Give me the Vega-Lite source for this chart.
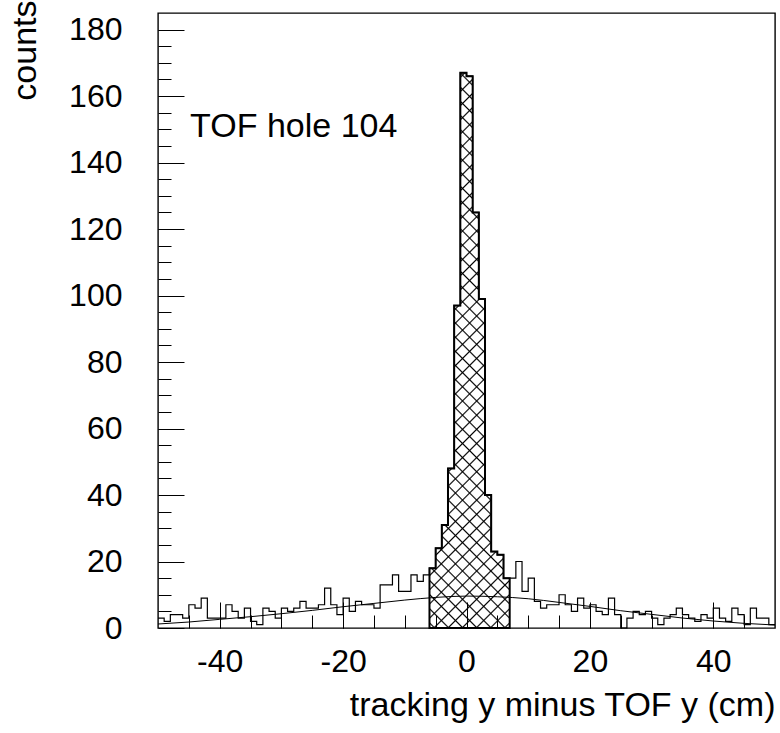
{
"$schema":"https://vega.github.io/schema/vega-lite/v6.json",
"width":617,"height":615,
"autosize":{"type":"none"},
"padding":{"left":158,"top":13,"right":5,"bottom":105},
"background":"white",
"config":{"view":{"stroke":"black","strokeWidth":1.4},"font":"Liberation Sans"},
"datasets":{
"hist":[{"x":-50,"c":3},{"x":-49,"c":2},{"x":-48,"c":4},{"x":-47,"c":4},{"x":-46,"c":3},{"x":-45,"c":7},{"x":-44,"c":6},{"x":-43,"c":9},{"x":-42,"c":3},{"x":-41,"c":3},{"x":-40,"c":3},{"x":-39,"c":7},{"x":-38,"c":5},{"x":-37,"c":3},{"x":-36,"c":6},{"x":-35,"c":2},{"x":-34,"c":1},{"x":-33,"c":6},{"x":-32,"c":5},{"x":-31,"c":3},{"x":-30,"c":6},{"x":-29,"c":5},{"x":-28,"c":6},{"x":-27,"c":8},{"x":-26,"c":6},{"x":-25,"c":6},{"x":-24,"c":7},{"x":-23,"c":12},{"x":-22,"c":7},{"x":-21,"c":4},{"x":-20,"c":9},{"x":-19,"c":5},{"x":-18,"c":8},{"x":-17,"c":7},{"x":-16,"c":7},{"x":-15,"c":6},{"x":-14,"c":13},{"x":-13,"c":13},{"x":-12,"c":16},{"x":-11,"c":11},{"x":-10,"c":11},{"x":-9,"c":16},{"x":-8,"c":14},{"x":-7,"c":16},{"x":-6,"c":18},{"x":-5,"c":24},{"x":-4,"c":31},{"x":-3,"c":48},{"x":-2,"c":97},{"x":-1,"c":167},{"x":0,"c":166},{"x":1,"c":125},{"x":2,"c":99},{"x":3,"c":40},{"x":4,"c":23},{"x":5,"c":22},{"x":6,"c":15},{"x":7,"c":15},{"x":8,"c":20},{"x":9,"c":11},{"x":10,"c":15},{"x":11,"c":8},{"x":12,"c":6},{"x":13,"c":7},{"x":14,"c":7},{"x":15,"c":10},{"x":16,"c":7},{"x":17,"c":5},{"x":18,"c":9},{"x":19,"c":6},{"x":20,"c":7},{"x":21,"c":5},{"x":22,"c":4},{"x":23,"c":9},{"x":24,"c":4},{"x":25,"c":0},{"x":26,"c":3},{"x":27,"c":5},{"x":28,"c":4},{"x":29,"c":5},{"x":30,"c":3},{"x":31,"c":1},{"x":32,"c":3},{"x":33,"c":4},{"x":34,"c":6},{"x":35,"c":4},{"x":36,"c":3},{"x":37,"c":2},{"x":38,"c":4},{"x":39,"c":3},{"x":40,"c":6},{"x":41,"c":3},{"x":42,"c":2},{"x":43,"c":6},{"x":44,"c":4},{"x":45,"c":1},{"x":46,"c":6},{"x":47,"c":3},{"x":48,"c":3},{"x":49,"c":1},{"x":50,"c":1}],
"sel":[{"x":-6,"c":18},{"x":-5,"c":24},{"x":-4,"c":31},{"x":-3,"c":48},{"x":-2,"c":97},{"x":-1,"c":167},{"x":0,"c":166},{"x":1,"c":125},{"x":2,"c":99},{"x":3,"c":40},{"x":4,"c":23},{"x":5,"c":22},{"x":6,"c":15},{"x":7,"c":15}],
"fit":[{"x":-50,"c":1.2},{"x":-45,"c":1.8},{"x":-40,"c":2.6},{"x":-35,"c":3.4},{"x":-30,"c":4.3},{"x":-25,"c":5.3},{"x":-20,"c":6.4},{"x":-15,"c":7.4},{"x":-10,"c":8.4},{"x":-5,"c":9.2},{"x":0,"c":9.6},{"x":5,"c":9.4},{"x":10,"c":8.8},{"x":15,"c":7.7},{"x":20,"c":6.5},{"x":25,"c":5.2},{"x":30,"c":4.1},{"x":35,"c":3.0},{"x":40,"c":2.1},{"x":45,"c":1.4},{"x":50,"c":0.9}],
"label":[{"x":-44.8,"c":150.8,"t":"TOF hole 104"}]
},
"resolve":{"axis":{"x":"independent","y":"independent"}},
"layer":[
{"data":{"name":"sel"},
 "mark":{"type":"area","interpolate":"step-after","fill":{"gradient":"linear","x1":0,"y1":0,"x2":0.16225,"y2":1.12121,"stops":[
{"offset":0.0086,"color":"rgba(0,0,0,0)"},{"offset":0.0111,"color":"black"},{"offset":0.0136,"color":"rgba(0,0,0,0)"},
{"offset":0.0309,"color":"rgba(0,0,0,0)"},{"offset":0.0334,"color":"black"},{"offset":0.0359,"color":"rgba(0,0,0,0)"},
{"offset":0.0532,"color":"rgba(0,0,0,0)"},{"offset":0.0557,"color":"black"},{"offset":0.0582,"color":"rgba(0,0,0,0)"},
{"offset":0.0755,"color":"rgba(0,0,0,0)"},{"offset":0.0780,"color":"black"},{"offset":0.0805,"color":"rgba(0,0,0,0)"},
{"offset":0.0978,"color":"rgba(0,0,0,0)"},{"offset":0.1003,"color":"black"},{"offset":0.1028,"color":"rgba(0,0,0,0)"},
{"offset":0.1201,"color":"rgba(0,0,0,0)"},{"offset":0.1226,"color":"black"},{"offset":0.1251,"color":"rgba(0,0,0,0)"},
{"offset":0.1424,"color":"rgba(0,0,0,0)"},{"offset":0.1449,"color":"black"},{"offset":0.1474,"color":"rgba(0,0,0,0)"},
{"offset":0.1647,"color":"rgba(0,0,0,0)"},{"offset":0.1672,"color":"black"},{"offset":0.1697,"color":"rgba(0,0,0,0)"},
{"offset":0.1870,"color":"rgba(0,0,0,0)"},{"offset":0.1895,"color":"black"},{"offset":0.1920,"color":"rgba(0,0,0,0)"},
{"offset":0.2093,"color":"rgba(0,0,0,0)"},{"offset":0.2118,"color":"black"},{"offset":0.2143,"color":"rgba(0,0,0,0)"},
{"offset":0.2315,"color":"rgba(0,0,0,0)"},{"offset":0.2340,"color":"black"},{"offset":0.2365,"color":"rgba(0,0,0,0)"},
{"offset":0.2538,"color":"rgba(0,0,0,0)"},{"offset":0.2563,"color":"black"},{"offset":0.2588,"color":"rgba(0,0,0,0)"},
{"offset":0.2761,"color":"rgba(0,0,0,0)"},{"offset":0.2786,"color":"black"},{"offset":0.2811,"color":"rgba(0,0,0,0)"},
{"offset":0.2984,"color":"rgba(0,0,0,0)"},{"offset":0.3009,"color":"black"},{"offset":0.3034,"color":"rgba(0,0,0,0)"},
{"offset":0.3207,"color":"rgba(0,0,0,0)"},{"offset":0.3232,"color":"black"},{"offset":0.3257,"color":"rgba(0,0,0,0)"},
{"offset":0.3430,"color":"rgba(0,0,0,0)"},{"offset":0.3455,"color":"black"},{"offset":0.3480,"color":"rgba(0,0,0,0)"},
{"offset":0.3653,"color":"rgba(0,0,0,0)"},{"offset":0.3678,"color":"black"},{"offset":0.3703,"color":"rgba(0,0,0,0)"},
{"offset":0.3876,"color":"rgba(0,0,0,0)"},{"offset":0.3901,"color":"black"},{"offset":0.3926,"color":"rgba(0,0,0,0)"},
{"offset":0.4099,"color":"rgba(0,0,0,0)"},{"offset":0.4124,"color":"black"},{"offset":0.4149,"color":"rgba(0,0,0,0)"},
{"offset":0.4322,"color":"rgba(0,0,0,0)"},{"offset":0.4347,"color":"black"},{"offset":0.4372,"color":"rgba(0,0,0,0)"},
{"offset":0.4544,"color":"rgba(0,0,0,0)"},{"offset":0.4569,"color":"black"},{"offset":0.4594,"color":"rgba(0,0,0,0)"},
{"offset":0.4767,"color":"rgba(0,0,0,0)"},{"offset":0.4792,"color":"black"},{"offset":0.4817,"color":"rgba(0,0,0,0)"},
{"offset":0.4990,"color":"rgba(0,0,0,0)"},{"offset":0.5015,"color":"black"},{"offset":0.5040,"color":"rgba(0,0,0,0)"},
{"offset":0.5213,"color":"rgba(0,0,0,0)"},{"offset":0.5238,"color":"black"},{"offset":0.5263,"color":"rgba(0,0,0,0)"},
{"offset":0.5436,"color":"rgba(0,0,0,0)"},{"offset":0.5461,"color":"black"},{"offset":0.5486,"color":"rgba(0,0,0,0)"},
{"offset":0.5659,"color":"rgba(0,0,0,0)"},{"offset":0.5684,"color":"black"},{"offset":0.5709,"color":"rgba(0,0,0,0)"},
{"offset":0.5882,"color":"rgba(0,0,0,0)"},{"offset":0.5907,"color":"black"},{"offset":0.5932,"color":"rgba(0,0,0,0)"},
{"offset":0.6105,"color":"rgba(0,0,0,0)"},{"offset":0.6130,"color":"black"},{"offset":0.6155,"color":"rgba(0,0,0,0)"},
{"offset":0.6328,"color":"rgba(0,0,0,0)"},{"offset":0.6353,"color":"black"},{"offset":0.6378,"color":"rgba(0,0,0,0)"},
{"offset":0.6551,"color":"rgba(0,0,0,0)"},{"offset":0.6576,"color":"black"},{"offset":0.6601,"color":"rgba(0,0,0,0)"},
{"offset":0.6773,"color":"rgba(0,0,0,0)"},{"offset":0.6798,"color":"black"},{"offset":0.6823,"color":"rgba(0,0,0,0)"},
{"offset":0.6996,"color":"rgba(0,0,0,0)"},{"offset":0.7021,"color":"black"},{"offset":0.7046,"color":"rgba(0,0,0,0)"},
{"offset":0.7219,"color":"rgba(0,0,0,0)"},{"offset":0.7244,"color":"black"},{"offset":0.7269,"color":"rgba(0,0,0,0)"},
{"offset":0.7442,"color":"rgba(0,0,0,0)"},{"offset":0.7467,"color":"black"},{"offset":0.7492,"color":"rgba(0,0,0,0)"},
{"offset":0.7665,"color":"rgba(0,0,0,0)"},{"offset":0.7690,"color":"black"},{"offset":0.7715,"color":"rgba(0,0,0,0)"},
{"offset":0.7888,"color":"rgba(0,0,0,0)"},{"offset":0.7913,"color":"black"},{"offset":0.7938,"color":"rgba(0,0,0,0)"},
{"offset":0.8111,"color":"rgba(0,0,0,0)"},{"offset":0.8136,"color":"black"},{"offset":0.8161,"color":"rgba(0,0,0,0)"},
{"offset":0.8334,"color":"rgba(0,0,0,0)"},{"offset":0.8359,"color":"black"},{"offset":0.8384,"color":"rgba(0,0,0,0)"},
{"offset":0.8557,"color":"rgba(0,0,0,0)"},{"offset":0.8582,"color":"black"},{"offset":0.8607,"color":"rgba(0,0,0,0)"},
{"offset":0.8780,"color":"rgba(0,0,0,0)"},{"offset":0.8805,"color":"black"},{"offset":0.8830,"color":"rgba(0,0,0,0)"},
{"offset":0.9002,"color":"rgba(0,0,0,0)"},{"offset":0.9027,"color":"black"},{"offset":0.9052,"color":"rgba(0,0,0,0)"},
{"offset":0.9225,"color":"rgba(0,0,0,0)"},{"offset":0.9250,"color":"black"},{"offset":0.9275,"color":"rgba(0,0,0,0)"},
{"offset":0.9448,"color":"rgba(0,0,0,0)"},{"offset":0.9473,"color":"black"},{"offset":0.9498,"color":"rgba(0,0,0,0)"},
{"offset":0.9671,"color":"rgba(0,0,0,0)"},{"offset":0.9696,"color":"black"},{"offset":0.9721,"color":"rgba(0,0,0,0)"},
{"offset":0.9894,"color":"rgba(0,0,0,0)"},{"offset":0.9919,"color":"black"},{"offset":0.9944,"color":"rgba(0,0,0,0)"}
]}},
 "encoding":{
  "x":{"field":"x","type":"quantitative","scale":{"domain":[-50,50],"nice":false,"zero":false},
   "axis":{"orient":"bottom","values":[-40,-20,0,20,40],"labelExpr":"'' + datum.value","tickSize":-26,"tickColor":"black","tickWidth":1,"domain":false,"grid":false,"labelFontSize":32,"labelColor":"black","labelFont":"Liberation Sans","labelPadding":44,"labelFlush":false,"title":"tracking y minus TOF y (cm)","titleFont":"Liberation Sans","titleFontSize":34,"titleFontWeight":"normal","titleColor":"black","titleAnchor":"end","titlePadding":11,"zindex":1}},
  "y":{"field":"c","type":"quantitative","scale":{"domain":[0,185],"nice":false,"zero":true},
   "axis":{"orient":"left","values":[0,20,40,60,80,100,120,140,160,180],"tickSize":-26,"tickColor":"black","tickWidth":1,"domain":false,"grid":false,"labelFontSize":32,"labelColor":"black","labelFont":"Liberation Sans","labelPadding":62,"labelFlush":false,"title":"counts","titleFont":"Liberation Sans","titleFontSize":34,"titleFontWeight":"normal","titleColor":"black","titleAnchor":"end","titlePadding":26,"titleY":-13,"zindex":1}}
 }},
{"data":{"name":"sel"},
 "mark":{"type":"area","interpolate":"step-after","stroke":"black","strokeWidth":2,"fill":{"gradient":"linear","x1":1,"y1":0,"x2":0.83775,"y2":1.12121,"stops":[
{"offset":0.0086,"color":"rgba(0,0,0,0)"},{"offset":0.0111,"color":"black"},{"offset":0.0136,"color":"rgba(0,0,0,0)"},
{"offset":0.0309,"color":"rgba(0,0,0,0)"},{"offset":0.0334,"color":"black"},{"offset":0.0359,"color":"rgba(0,0,0,0)"},
{"offset":0.0532,"color":"rgba(0,0,0,0)"},{"offset":0.0557,"color":"black"},{"offset":0.0582,"color":"rgba(0,0,0,0)"},
{"offset":0.0755,"color":"rgba(0,0,0,0)"},{"offset":0.0780,"color":"black"},{"offset":0.0805,"color":"rgba(0,0,0,0)"},
{"offset":0.0978,"color":"rgba(0,0,0,0)"},{"offset":0.1003,"color":"black"},{"offset":0.1028,"color":"rgba(0,0,0,0)"},
{"offset":0.1201,"color":"rgba(0,0,0,0)"},{"offset":0.1226,"color":"black"},{"offset":0.1251,"color":"rgba(0,0,0,0)"},
{"offset":0.1424,"color":"rgba(0,0,0,0)"},{"offset":0.1449,"color":"black"},{"offset":0.1474,"color":"rgba(0,0,0,0)"},
{"offset":0.1647,"color":"rgba(0,0,0,0)"},{"offset":0.1672,"color":"black"},{"offset":0.1697,"color":"rgba(0,0,0,0)"},
{"offset":0.1870,"color":"rgba(0,0,0,0)"},{"offset":0.1895,"color":"black"},{"offset":0.1920,"color":"rgba(0,0,0,0)"},
{"offset":0.2093,"color":"rgba(0,0,0,0)"},{"offset":0.2118,"color":"black"},{"offset":0.2143,"color":"rgba(0,0,0,0)"},
{"offset":0.2315,"color":"rgba(0,0,0,0)"},{"offset":0.2340,"color":"black"},{"offset":0.2365,"color":"rgba(0,0,0,0)"},
{"offset":0.2538,"color":"rgba(0,0,0,0)"},{"offset":0.2563,"color":"black"},{"offset":0.2588,"color":"rgba(0,0,0,0)"},
{"offset":0.2761,"color":"rgba(0,0,0,0)"},{"offset":0.2786,"color":"black"},{"offset":0.2811,"color":"rgba(0,0,0,0)"},
{"offset":0.2984,"color":"rgba(0,0,0,0)"},{"offset":0.3009,"color":"black"},{"offset":0.3034,"color":"rgba(0,0,0,0)"},
{"offset":0.3207,"color":"rgba(0,0,0,0)"},{"offset":0.3232,"color":"black"},{"offset":0.3257,"color":"rgba(0,0,0,0)"},
{"offset":0.3430,"color":"rgba(0,0,0,0)"},{"offset":0.3455,"color":"black"},{"offset":0.3480,"color":"rgba(0,0,0,0)"},
{"offset":0.3653,"color":"rgba(0,0,0,0)"},{"offset":0.3678,"color":"black"},{"offset":0.3703,"color":"rgba(0,0,0,0)"},
{"offset":0.3876,"color":"rgba(0,0,0,0)"},{"offset":0.3901,"color":"black"},{"offset":0.3926,"color":"rgba(0,0,0,0)"},
{"offset":0.4099,"color":"rgba(0,0,0,0)"},{"offset":0.4124,"color":"black"},{"offset":0.4149,"color":"rgba(0,0,0,0)"},
{"offset":0.4322,"color":"rgba(0,0,0,0)"},{"offset":0.4347,"color":"black"},{"offset":0.4372,"color":"rgba(0,0,0,0)"},
{"offset":0.4544,"color":"rgba(0,0,0,0)"},{"offset":0.4569,"color":"black"},{"offset":0.4594,"color":"rgba(0,0,0,0)"},
{"offset":0.4767,"color":"rgba(0,0,0,0)"},{"offset":0.4792,"color":"black"},{"offset":0.4817,"color":"rgba(0,0,0,0)"},
{"offset":0.4990,"color":"rgba(0,0,0,0)"},{"offset":0.5015,"color":"black"},{"offset":0.5040,"color":"rgba(0,0,0,0)"},
{"offset":0.5213,"color":"rgba(0,0,0,0)"},{"offset":0.5238,"color":"black"},{"offset":0.5263,"color":"rgba(0,0,0,0)"},
{"offset":0.5436,"color":"rgba(0,0,0,0)"},{"offset":0.5461,"color":"black"},{"offset":0.5486,"color":"rgba(0,0,0,0)"},
{"offset":0.5659,"color":"rgba(0,0,0,0)"},{"offset":0.5684,"color":"black"},{"offset":0.5709,"color":"rgba(0,0,0,0)"},
{"offset":0.5882,"color":"rgba(0,0,0,0)"},{"offset":0.5907,"color":"black"},{"offset":0.5932,"color":"rgba(0,0,0,0)"},
{"offset":0.6105,"color":"rgba(0,0,0,0)"},{"offset":0.6130,"color":"black"},{"offset":0.6155,"color":"rgba(0,0,0,0)"},
{"offset":0.6328,"color":"rgba(0,0,0,0)"},{"offset":0.6353,"color":"black"},{"offset":0.6378,"color":"rgba(0,0,0,0)"},
{"offset":0.6551,"color":"rgba(0,0,0,0)"},{"offset":0.6576,"color":"black"},{"offset":0.6601,"color":"rgba(0,0,0,0)"},
{"offset":0.6773,"color":"rgba(0,0,0,0)"},{"offset":0.6798,"color":"black"},{"offset":0.6823,"color":"rgba(0,0,0,0)"},
{"offset":0.6996,"color":"rgba(0,0,0,0)"},{"offset":0.7021,"color":"black"},{"offset":0.7046,"color":"rgba(0,0,0,0)"},
{"offset":0.7219,"color":"rgba(0,0,0,0)"},{"offset":0.7244,"color":"black"},{"offset":0.7269,"color":"rgba(0,0,0,0)"},
{"offset":0.7442,"color":"rgba(0,0,0,0)"},{"offset":0.7467,"color":"black"},{"offset":0.7492,"color":"rgba(0,0,0,0)"},
{"offset":0.7665,"color":"rgba(0,0,0,0)"},{"offset":0.7690,"color":"black"},{"offset":0.7715,"color":"rgba(0,0,0,0)"},
{"offset":0.7888,"color":"rgba(0,0,0,0)"},{"offset":0.7913,"color":"black"},{"offset":0.7938,"color":"rgba(0,0,0,0)"},
{"offset":0.8111,"color":"rgba(0,0,0,0)"},{"offset":0.8136,"color":"black"},{"offset":0.8161,"color":"rgba(0,0,0,0)"},
{"offset":0.8334,"color":"rgba(0,0,0,0)"},{"offset":0.8359,"color":"black"},{"offset":0.8384,"color":"rgba(0,0,0,0)"},
{"offset":0.8557,"color":"rgba(0,0,0,0)"},{"offset":0.8582,"color":"black"},{"offset":0.8607,"color":"rgba(0,0,0,0)"},
{"offset":0.8780,"color":"rgba(0,0,0,0)"},{"offset":0.8805,"color":"black"},{"offset":0.8830,"color":"rgba(0,0,0,0)"},
{"offset":0.9002,"color":"rgba(0,0,0,0)"},{"offset":0.9027,"color":"black"},{"offset":0.9052,"color":"rgba(0,0,0,0)"},
{"offset":0.9225,"color":"rgba(0,0,0,0)"},{"offset":0.9250,"color":"black"},{"offset":0.9275,"color":"rgba(0,0,0,0)"},
{"offset":0.9448,"color":"rgba(0,0,0,0)"},{"offset":0.9473,"color":"black"},{"offset":0.9498,"color":"rgba(0,0,0,0)"},
{"offset":0.9671,"color":"rgba(0,0,0,0)"},{"offset":0.9696,"color":"black"},{"offset":0.9721,"color":"rgba(0,0,0,0)"},
{"offset":0.9894,"color":"rgba(0,0,0,0)"},{"offset":0.9919,"color":"black"},{"offset":0.9944,"color":"rgba(0,0,0,0)"}
]}},
 "encoding":{
  "x":{"field":"x","type":"quantitative","scale":{"domain":[-50,50],"nice":false,"zero":false},
   "axis":{"orient":"bottom","values":[-45,-40,-35,-30,-25,-20,-15,-10,-5,0,5,10,15,20,25,30,35,40,45],"tickSize":-13,"tickColor":"black","tickWidth":1,"domain":false,"grid":false,"labels":false,"title":null,"zindex":1}},
  "y":{"field":"c","type":"quantitative","scale":{"domain":[0,185],"nice":false,"zero":true},
   "axis":{"orient":"left","values":[5,10,15,20,25,30,35,40,45,50,55,60,65,70,75,80,85,90,95,100,105,110,115,120,125,130,135,140,145,150,155,160,165,170,175,180],"tickSize":-13,"tickColor":"black","tickWidth":1,"domain":false,"grid":false,"labels":false,"title":null,"zindex":1}}
 }},
{"data":{"name":"hist"},
 "mark":{"type":"line","interpolate":"step-after","color":"black","strokeWidth":1.2},
 "encoding":{
  "x":{"field":"x","type":"quantitative","scale":{"domain":[-50,50],"nice":false,"zero":false},"axis":null},
  "y":{"field":"c","type":"quantitative","scale":{"domain":[0,185],"nice":false,"zero":true},"axis":null}
 }},
{"data":{"name":"fit"},
 "mark":{"type":"line","interpolate":"monotone","color":"black","strokeWidth":1},
 "encoding":{
  "x":{"field":"x","type":"quantitative","axis":null},
  "y":{"field":"c","type":"quantitative","axis":null}
 }},
{"data":{"name":"label"},
 "mark":{"type":"text","align":"left","baseline":"middle","fontSize":34,"font":"Liberation Sans","color":"black"},
 "encoding":{
  "x":{"field":"x","type":"quantitative","axis":null},
  "y":{"field":"c","type":"quantitative","axis":null},
  "text":{"field":"t"}
 }}
]
}
